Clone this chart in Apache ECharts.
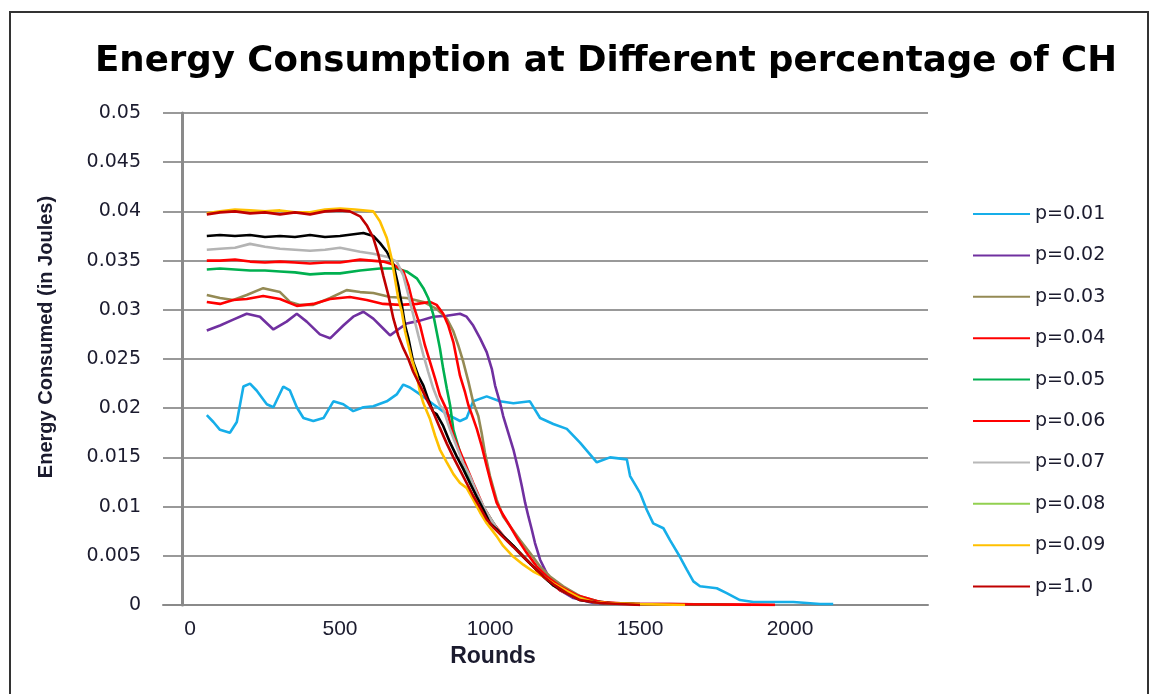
<!DOCTYPE html>
<html>
<head>
<meta charset="utf-8">
<title>Energy Consumption at Different percentage of CH</title>
<script src="https://cdn.jsdelivr.net/npm/echarts@6/dist/echarts.min.js"></script>
<style>
  html, body { margin: 0; padding: 0; background: #fff; }
  #chart { width: 1157px; height: 694px; }
</style>
</head>
<body>
<div id="chart"></div>
<script>
// [round, energy] pairs, one array per p
const p001 = [[56,0.0193],[78,0.0186],[100,0.0178],[133,0.0175],[156,0.0186],[178,0.0222],[200,0.0225],[222,0.0218],[256,0.0204],[278,0.0201],[311,0.0222],[333,0.0218],[356,0.0201],[378,0.0190],[411,0.0187],[445,0.0190],[478,0.0207],[511,0.0204],[544,0.0197],[578,0.0201],[611,0.0202],[656,0.0207],[689,0.0214],[711,0.0224],[733,0.0221],[767,0.0214],[811,0.0204],[856,0.0194],[900,0.0187],[922,0.0190],[944,0.0207],[989,0.0212],[1033,0.0207],[1078,0.0205],[1133,0.0207],[1167,0.0190],[1211,0.0184],[1256,0.0179],[1300,0.0165],[1356,0.0145],[1400,0.0150],[1456,0.0148],[1467,0.0131],[1500,0.0114],[1522,0.0097],[1544,0.0083],[1578,0.0078],[1600,0.0066],[1633,0.0049],[1656,0.0036],[1678,0.0024],[1700,0.0019],[1756,0.0017],[1789,0.0012],[1833,0.0005],[1878,0.0003],[2011,0.0003],[2056,0.0002],[2100,0.0001],[2144,0.0001]];
const p002 = [[56,0.0279],[100,0.0284],[144,0.0290],[189,0.0296],[233,0.0293],[278,0.0280],[322,0.0288],[356,0.0296],[389,0.0288],[433,0.0275],[467,0.0271],[511,0.0284],[544,0.0293],[578,0.0298],[611,0.0291],[644,0.0281],[667,0.0274],[689,0.0279],[722,0.0286],[767,0.0289],[811,0.0293],[856,0.0294],[900,0.0296],[922,0.0293],[944,0.0284],[967,0.0271],[989,0.0257],[1006,0.0240],[1017,0.0223],[1033,0.0206],[1044,0.0192],[1061,0.0175],[1078,0.0158],[1094,0.0138],[1106,0.0121],[1117,0.0104],[1128,0.0090],[1139,0.0077],[1150,0.0063],[1167,0.0046],[1183,0.0036],[1200,0.0026],[1233,0.0015],[1278,0.0007],[1344,0.0002],[1450,0.0001],[1600,0.0001],[1870,0]];
const p003 = [[56,0.0315],[100,0.0312],[144,0.0310],[189,0.0315],[244,0.0322],[300,0.0318],[333,0.0308],[367,0.0305],[411,0.0305],[467,0.0312],[522,0.0320],[567,0.0318],[611,0.0317],[667,0.0313],[722,0.0312],[778,0.0308],[822,0.0301],[856,0.0291],[878,0.0278],[894,0.0264],[911,0.0247],[928,0.0227],[944,0.0206],[961,0.0192],[972,0.0175],[983,0.0155],[1000,0.0131],[1022,0.0107],[1044,0.0090],[1067,0.0080],[1100,0.0066],[1133,0.0053],[1167,0.0039],[1200,0.0029],[1244,0.0019],[1300,0.0009],[1367,0.0003],[1450,0.0001],[1700,0]];
const p004 = [[56,0.0308],[100,0.0306],[144,0.0310],[189,0.0311],[244,0.0314],[300,0.0311],[356,0.0304],[411,0.0306],[467,0.0311],[500,0.0312],[533,0.0313],[589,0.0310],[644,0.0306],[700,0.0305],[756,0.0306],[800,0.0308],[822,0.0305],[844,0.0296],[861,0.0284],[878,0.0267],[889,0.0250],[900,0.0233],[917,0.0216],[928,0.0203],[939,0.0194],[956,0.0179],[972,0.0162],[989,0.0141],[1006,0.0121],[1022,0.0104],[1039,0.0094],[1067,0.0080],[1094,0.0066],[1122,0.0053],[1156,0.0039],[1189,0.0029],[1233,0.0019],[1289,0.0010],[1367,0.0003],[1478,0.0001],[1600,0.0001],[1950,0]];
const p005 = [[56,0.0341],[100,0.0342],[150,0.0341],[200,0.0340],[250,0.0340],[300,0.0339],[350,0.0338],[400,0.0336],[450,0.0337],[500,0.0337],[567,0.0340],[633,0.0342],[689,0.0342],[722,0.0339],[756,0.0332],[778,0.0322],[794,0.0312],[811,0.0295],[822,0.0278],[833,0.0261],[844,0.0240],[856,0.0220],[867,0.0203],[878,0.0178],[900,0.0155],[922,0.0134],[956,0.0110],[989,0.0094],[1033,0.0073],[1078,0.0060],[1122,0.0046],[1167,0.0032],[1211,0.0020],[1256,0.0012],[1322,0.0005],[1400,0.0002],[1500,0.0001],[1800,0]];
const p006 = [[56,0.0350],[100,0.0350],[150,0.0351],[200,0.0349],[250,0.0348],[300,0.0349],[350,0.0348],[400,0.0347],[450,0.0348],[500,0.0348],[567,0.0351],[644,0.0349],[678,0.0346],[711,0.0339],[728,0.0325],[744,0.0305],[767,0.0284],[783,0.0264],[800,0.0247],[817,0.0230],[833,0.0213],[856,0.0198],[878,0.0172],[911,0.0148],[944,0.0124],[978,0.0100],[1011,0.0083],[1056,0.0066],[1100,0.0053],[1144,0.0039],[1189,0.0026],[1233,0.0015],[1300,0.0006],[1400,0.0002],[1500,0.0001],[1950,0]];
const p007 = [[56,0.0361],[100,0.0362],[150,0.0363],[200,0.0367],[250,0.0364],[300,0.0362],[350,0.0361],[400,0.0360],[450,0.0361],[500,0.0363],[567,0.0359],[611,0.0357],[656,0.0354],[689,0.0349],[711,0.0335],[728,0.0315],[744,0.0295],[761,0.0274],[778,0.0254],[794,0.0237],[811,0.0220],[833,0.0203],[844,0.0199],[867,0.0178],[889,0.0161],[911,0.0144],[933,0.0131],[956,0.0114],[989,0.0094],[1022,0.0078],[1056,0.0066],[1100,0.0052],[1144,0.0039],[1178,0.0029],[1211,0.0020],[1256,0.0012],[1300,0.0005],[1367,0.0002],[1500,0]];
const p008 = [[56,0.0375],[100,0.0376],[150,0.0375],[200,0.0376],[250,0.0374],[300,0.0375],[350,0.0374],[400,0.0376],[450,0.0374],[500,0.0375],[578,0.0378],[611,0.0375],[633,0.0368],[656,0.0359],[678,0.0346],[694,0.0325],[706,0.0305],[717,0.0284],[728,0.0271],[744,0.0247],[761,0.0233],[778,0.0223],[794,0.0209],[811,0.0196],[822,0.0194],[844,0.0182],[867,0.0165],[889,0.0151],[911,0.0138],[933,0.0124],[956,0.0110],[978,0.0097],[1000,0.0083],[1022,0.0077],[1044,0.0070],[1078,0.0060],[1111,0.0049],[1144,0.0039],[1178,0.0029],[1211,0.0020],[1256,0.0012],[1300,0.0005],[1367,0.0002],[1478,0.0001],[1500,0]];
const p009 = [[56,0.0398],[100,0.0400],[150,0.0402],[200,0.0401],[250,0.0400],[300,0.0401],[350,0.0399],[400,0.0399],[450,0.0402],[500,0.0403],[550,0.0402],[611,0.0400],[633,0.0390],[656,0.0373],[672,0.0352],[683,0.0332],[694,0.0312],[706,0.0298],[717,0.0278],[728,0.0264],[739,0.0250],[756,0.0233],[767,0.0216],[778,0.0205],[800,0.0189],[817,0.0172],[833,0.0158],[856,0.0145],[878,0.0133],[900,0.0124],[922,0.0119],[944,0.0107],[967,0.0094],[989,0.0083],[1022,0.0070],[1044,0.0060],[1078,0.0049],[1111,0.0041],[1144,0.0034],[1178,0.0029],[1211,0.0022],[1256,0.0014],[1300,0.0007],[1344,0.0003],[1389,0.0002],[1500,0.0001],[1650,0]];
const p100 = [[56,0.0397],[100,0.0399],[150,0.0400],[200,0.0398],[250,0.0399],[300,0.0397],[350,0.0399],[400,0.0397],[450,0.0400],[500,0.0401],[533,0.0400],[567,0.0395],[589,0.0386],[611,0.0373],[628,0.0356],[644,0.0335],[661,0.0315],[678,0.0291],[694,0.0274],[711,0.0261],[728,0.0250],[744,0.0237],[767,0.0223],[789,0.0209],[811,0.0196],[833,0.0180],[856,0.0164],[878,0.0150],[900,0.0137],[922,0.0124],[944,0.0111],[967,0.0099],[989,0.0087],[1011,0.0079],[1044,0.0069],[1078,0.0059],[1111,0.0049],[1144,0.0039],[1178,0.0029],[1211,0.0021],[1256,0.0012],[1300,0.0005],[1367,0.0002],[1500,0]];

const seriesNames = ['p=0.01', 'p=0.02', 'p=0.03', 'p=0.04', 'p=0.05', 'p=0.06', 'p=0.07', 'p=0.08', 'p=0.09', 'p=1.0'];
const seriesData = [p001, p002, p003, p004, p005, p006, p007, p008, p009, p100];
const xTickLabels = [0, 500, 1000, 1500, 2000];

// legend swatch colour vs colour the curve is actually drawn in (p=0.08 plots black)
const legendColors = ['#16aee9', '#7030a0', '#948a54', '#ff0000', '#00b050', '#ff0000', '#b8b8b8', '#92d050', '#ffc000', '#c00000'];
const lineColors = ['#16aee9', '#7030a0', '#948a54', '#ff0000', '#00b050', '#ff0000', '#b4b4b4', '#000000', '#ffc000', '#c00000'];

const textColor = '#1b1b2e';

let chart = echarts.init(document.getElementById('chart'));

chart.setOption({
  animation: false,
  backgroundColor: '#ffffff',
  title: {
    text: 'Energy Consumption at Different percentage of CH',
    left: 601,
    textAlign: 'center',
    top: 39,
    textStyle: {
      fontFamily: 'DejaVu Sans',
      fontWeight: 'bold',
      fontSize: 35.6,
      color: '#000'
    }
  },
  graphic: [{
    type: 'rect',
    shape: { x: 10, y: 12, width: 1138, height: 700 },
    style: { fill: null, stroke: '#333', lineWidth: 2 },
    silent: true,
    z: -1
  }],
  legend: {
    orient: 'vertical',
    left: 968,
    top: 199,
    icon: 'rect',
    itemWidth: 57,
    itemHeight: 2,
    itemGap: 21.4,
    textStyle: {
      fontFamily: 'DejaVu Sans',
      fontSize: 19,
      lineHeight: 20,
      color: textColor
    },
    data: seriesNames.map((n, i) => ({ name: n, itemStyle: { color: legendColors[i] } }))
  },
  grid: {
    left: 163,
    right: 229,
    top: 113,
    bottom: 89
  },
  xAxis: {
    type: 'value',
    min: -90,
    max: 2460,
    name: 'Rounds',
    nameLocation: 'middle',
    nameGap: 38,
    nameTextStyle: {
      fontFamily: 'Liberation Sans',
      fontWeight: 'bold',
      fontSize: 23,
      color: textColor,
      padding: [0, 105, 0, 0]
    },
    axisLine: { onZero: false, lineStyle: { color: '#8a8a8a', width: 2 } },
    axisTick: { show: false },
    splitLine: { show: false },
    axisLabel: {
      customValues: xTickLabels,
      margin: 14,
      fontFamily: 'Liberation Sans',
      fontSize: 21,
      color: textColor,
      formatter: v => String(v)
    }
  },
  yAxis: {
    type: 'value',
    min: 0,
    max: 0.05,
    interval: 0.005,
    offset: -19,
    name: 'Energy Consumed (in Joules)',
    nameLocation: 'middle',
    nameRotate: 90,
    nameGap: 126,
    nameTextStyle: {
      fontFamily: 'Liberation Sans',
      fontWeight: 'bold',
      fontSize: 20,
      color: textColor,
      padding: [0, 0, 0, 44]
    },
    axisLine: { show: true, onZero: false, lineStyle: { color: '#8a8a8a', width: 3 } },
    axisTick: { show: false },
    splitLine: { show: true, lineStyle: { color: '#999999', width: 2 } },
    axisLabel: {
      margin: 41,
      fontFamily: 'DejaVu Sans',
      fontSize: 19,
      color: textColor,
      formatter: v => String(+v.toFixed(3))
    }
  },
  series: seriesNames.map((n, i) => ({
    name: n,
    type: 'line',
    data: seriesData[i],
    showSymbol: false,
    symbol: 'none',
    itemStyle: { color: legendColors[i] },
    lineStyle: { color: lineColors[i], width: 2.6 },
    z: 2 + i
  }))
});
</script>
</body>
</html>
